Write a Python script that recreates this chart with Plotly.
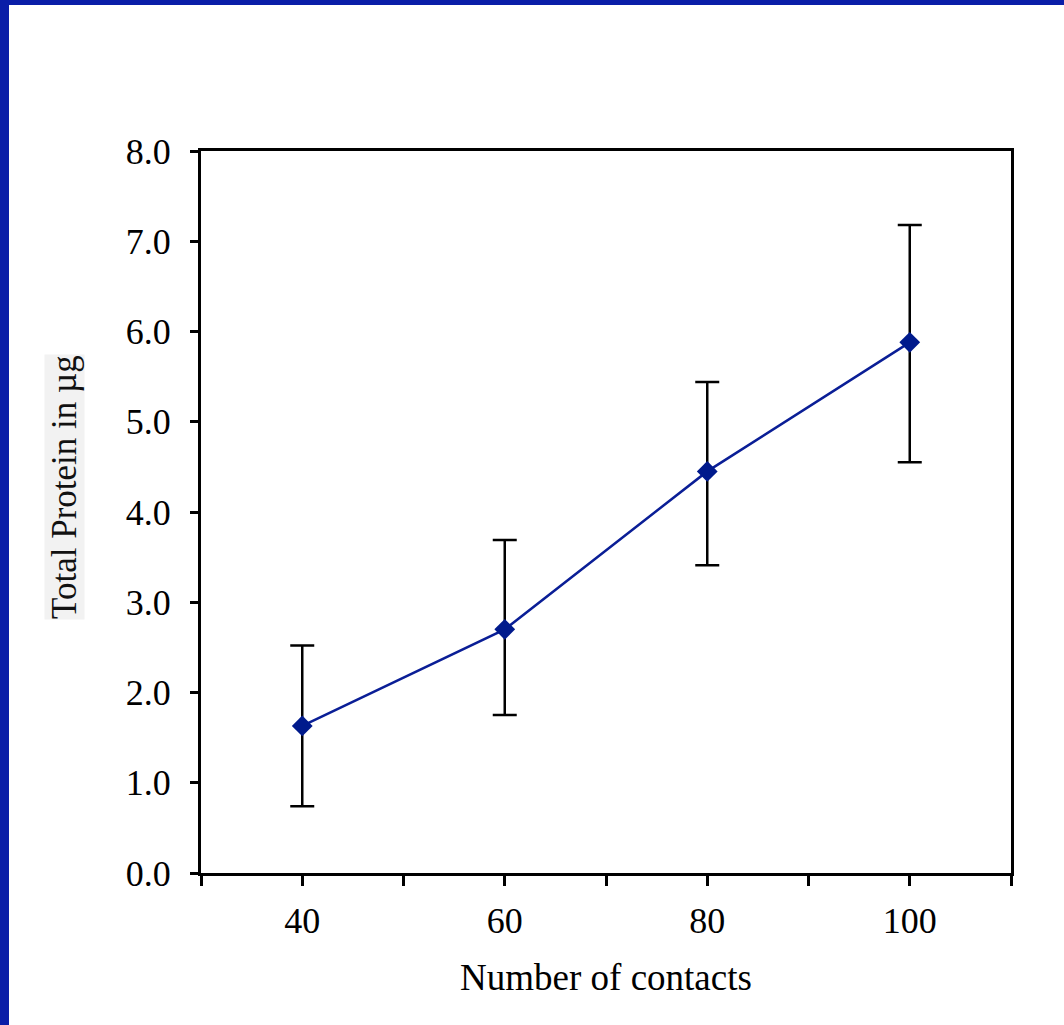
import plotly.graph_objects as go

contacts = [40, 60, 80, 100]
protein = [1.63, 2.70, 4.45, 5.88]
err_plus = [0.89, 0.99, 0.99, 1.30]
err_minus = [0.89, 0.95, 1.04, 1.33]

x_tickvals = [30, 40, 50, 60, 70, 80, 90, 100, 110]
x_ticktext = ["", "40", "", "60", "", "80", "", "100", ""]
y_tickvals = [0, 1, 2, 3, 4, 5, 6, 7, 8]

W, H = 1064, 1025
L, R, T, B = 201, 1011, 151, 873

fig = go.Figure()
fig.add_trace(go.Scatter(
    x=contacts, y=protein, mode="lines+markers",
    line=dict(color="#0A1E96", width=2.5),
    marker=dict(symbol="diamond", size=16, color="#001A8C"),
    error_y=dict(type="data", symmetric=False, array=err_plus, arrayminus=err_minus,
                 color="black", thickness=2.5, width=12),
    showlegend=False,
))

def px_x(p):
    return (p - L) / (R - L)

def px_y(p):
    return (B - p) / (B - T)

shapes = [
    dict(type="rect", xref="paper", yref="paper", x0=px_x(-20), x1=px_x(9), y0=px_y(1100), y1=px_y(-20),
         fillcolor="#0A1EA8", line=dict(width=0), layer="above"),
    dict(type="rect", xref="paper", yref="paper", x0=px_x(-20), x1=px_x(1100), y0=px_y(5), y1=px_y(-20),
         fillcolor="#0A1EA8", line=dict(width=0), layer="above"),
]

fig.update_layout(
    width=W, height=H,
    margin=dict(l=L, r=W - R, t=T, b=H - B, pad=0),
    paper_bgcolor="white", plot_bgcolor="white",
    font=dict(family="Liberation Serif", color="black"),
    shapes=shapes,
    xaxis=dict(range=[30, 110], tickvals=x_tickvals, ticktext=x_ticktext,
               ticks="outside", ticklen=10, tickwidth=3, tickcolor="black",
               showline=True, linecolor="black", linewidth=3, mirror=True,
               showgrid=False, zeroline=False,
               tickfont=dict(size=36, family="Liberation Serif"), ticklabelstandoff=4,
               title=dict(text="Number of contacts", font=dict(size=37, family="Liberation Serif"), standoff=24)),
    yaxis=dict(range=[0, 8], tickvals=y_tickvals, tickformat=".1f",
               ticks="outside", ticklen=8, tickwidth=3, tickcolor="black",
               showline=True, linecolor="black", linewidth=3, mirror=True,
               showgrid=False, zeroline=False,
               tickfont=dict(size=36, family="Liberation Serif"), ticklabelstandoff=12),
    annotations=[dict(
        text="Total Protein in µg", textangle=-90, xref="paper", yref="paper",
        x=px_x(64), y=px_y(487), xanchor="center", yanchor="middle", showarrow=False,
        font=dict(size=35, family="Liberation Serif", color="#111111"),
        bgcolor="#F2F2F2", borderpad=0,
    )],
)

fig.write_html("out.html", config={"displayModeBar": False},
               post_script="document.body.style.margin='0';")
